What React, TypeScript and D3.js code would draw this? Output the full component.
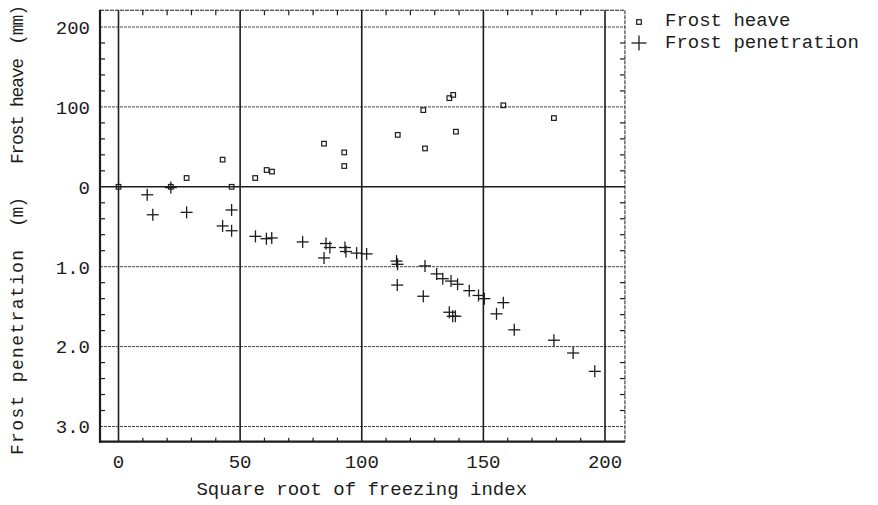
import React from "react";
import * as d3 from "d3";

// Square root of freezing index for each frost-heave observation
const heaveIndex = [0, 21.5, 28, 42.8, 46.5, 56.2, 60.9, 63.1, 84.5, 92.8, 92.8, 114.8, 125.3, 126.0, 136.0, 137.6, 138.7, 158.2, 179.0];
// Frost heave (mm)
const heaveMm = [0, 0, 11, 34, 0, 11, 21, 19, 54, 43, 26, 65, 96, 48, 111, 115, 69, 102, 86];

// Square root of freezing index for each frost-penetration observation
const penIndex = [11.8, 14.1, 21.5, 28.0, 42.8, 46.5, 46.5, 56.3, 60.8, 63.0, 75.7, 84.5, 85.3, 86.9, 93.1, 93.5, 97.9, 102.0, 114.3, 114.7, 114.6, 126.0, 125.3, 130.8, 133.3, 136.7, 139.4, 144.2, 148.0, 150.4, 136.0, 137.4, 138.5, 155.4, 158.2, 162.7, 179.0, 186.9, 195.8];
// Frost penetration (m), plotted downward from zero
const penM = [0.10, 0.35, 0.01, 0.32, 0.49, 0.29, 0.55, 0.62, 0.65, 0.64, 0.69, 0.89, 0.71, 0.76, 0.76, 0.81, 0.83, 0.84, 0.93, 0.97, 1.23, 0.99, 1.37, 1.09, 1.15, 1.18, 1.22, 1.30, 1.36, 1.40, 1.57, 1.62, 1.62, 1.59, 1.45, 1.79, 1.92, 2.08, 2.31];

// Axis ticks
const xMajor = [0, 50, 100, 150, 200];
const xTickLabels = ["0", "50", "100", "150", "200"];
const yMajor = [200, 100, 0, -100, -200, -300];
const yTickLabels = ["200", "100", "0", "1.0", "2.0", "3.0"];
const xLimits = [-7.6, 208.2];
const yLimits = [-319, 221];

// Pieces of the vertical title, bottom to top
const yTitleParts = ["Frost penetration", "(m)", "Frost heave", "(mm)"];

const FONT = "'Liberation Mono', 'Courier New', monospace";

export default function App() {
  const x = d3.scaleLinear().domain([0, 200]).range([118.5, 605]);
  // one vertical scale: 100 mm of heave above zero equals 1.0 m of penetration below
  const y = d3.scaleLinear().domain([-300, 200]).range([426.5, 27]);

  const left = x(xLimits[0]);
  const right = x(xLimits[1]);
  const top = y(yLimits[1]);
  const bottom = y(yLimits[0]);

  const xMinor = d3.range(10, 200, 10).filter((v) => v % 50 !== 0);
  const yMinor = d3.range(-300, 201, 20).filter((v) => v % 100 !== 0);

  // vertical extent (screen y) of each title piece: [bottom, top]
  const titleSpans: [number, number][] = [[455, 250], [227, 197], [164, 58], [45, 5]];

  const ink = "#1c1c1c";
  const plus = (cx: number, cy: number, h: number, key: string | number) => (
    <g key={key} stroke={ink} strokeWidth={1.3}>
      <line x1={cx - h} x2={cx + h} y1={cy} y2={cy} />
      <line x1={cx} x2={cx} y1={cy - h} y2={cy + h} />
    </g>
  );

  return (
    <div style={{ position: "absolute", left: 0, top: 0 }}>
      <svg width={878} height={505} style={{ display: "block", background: "#fff" }}>
        {/* horizontal grid */}
        {yMajor.filter((v) => v !== 0).map((v) => (
          <line key={"hg" + v} x1={left} x2={right} y1={y(v)} y2={y(v)} stroke="#444" strokeWidth={1} strokeDasharray="3 1" />
        ))}
        <line x1={left} x2={right} y1={y(0)} y2={y(0)} stroke={ink} strokeWidth={1.6} />
        {/* vertical grid */}
        {xMajor.map((v) => (
          <line key={"vg" + v} x1={x(v)} x2={x(v)} y1={top} y2={bottom} stroke={ink} strokeWidth={1.6} />
        ))}
        {/* frame */}
        <line x1={left} x2={right} y1={top} y2={top} stroke={ink} strokeWidth={1} strokeDasharray="4 1" />
        <line x1={right} x2={right} y1={top} y2={bottom} stroke={ink} strokeWidth={1} strokeDasharray="4 1" />
        <line x1={left} x2={left} y1={top - 0.5} y2={bottom + 1} stroke={ink} strokeWidth={2.2} />
        <line x1={left - 1} x2={right} y1={bottom} y2={bottom} stroke={ink} strokeWidth={2.2} />
        {/* minor ticks */}
        {xMinor.map((v) => (
          <g key={"xt" + v} stroke={ink} strokeWidth={1.2}>
            <line x1={x(v)} x2={x(v)} y1={top} y2={top + 5} />
            <line x1={x(v)} x2={x(v)} y1={bottom} y2={bottom - 4} />
          </g>
        ))}
        {yMinor.map((v) => (
          <g key={"yt" + v} stroke={ink} strokeWidth={1.2}>
            <line x1={left} x2={left + 5} y1={y(v)} y2={y(v)} />
            <line x1={right} x2={right - 5} y1={y(v)} y2={y(v)} />
          </g>
        ))}
        {/* tick labels */}
        {yMajor.map((v, i) => (
          <text key={"yl" + v} x={90} y={y(v)} dy="0.36em" textAnchor="end" fontFamily={FONT} fontSize={19} fill={ink}>
            {yTickLabels[i]}
          </text>
        ))}
        {xMajor.map((v, i) => (
          <text key={"xl" + v} x={x(v)} y={468} textAnchor="middle" fontFamily={FONT} fontSize={19} fill={ink}>
            {xTickLabels[i]}
          </text>
        ))}
        {/* axis titles */}
        <text x={x(100)} y={495} textAnchor="middle" fontFamily={FONT} fontSize={19} fill={ink}>
          Square root of freezing index
        </text>
        {yTitleParts.map((t, i) => {
          const [b, tp] = titleSpans[i];
          return (
            <text
              key={t}
              transform={`translate(23,${b}) rotate(-90)`}
              textLength={b - tp}
              lengthAdjust="spacing"
              fontFamily={FONT}
              fontSize={18}
              fill={ink}
            >
              {t}
            </text>
          );
        })}
        {/* frost heave points */}
        {heaveIndex.map((v, i) => (
          <rect key={"h" + i} x={x(v) - 2.3} y={y(heaveMm[i]) - 2.3} width={4.6} height={4.6} fill="none" stroke={ink} strokeWidth={1.2} />
        ))}
        {/* frost penetration points */}
        {penIndex.map((v, i) => plus(x(v), y(-penM[i] * 100), 6, "p" + i))}
        {/* legend */}
        <rect x={636.7} y={19.7} width={4.6} height={4.6} fill="none" stroke={ink} strokeWidth={1.2} />
        <text x={665} y={26} fontFamily={FONT} fontSize={19} fill={ink}>Frost heave</text>
        {plus(639, 43, 7.5, "lg")}
        <text x={665} y={48} fontFamily={FONT} fontSize={19} fill={ink}>Frost penetration</text>
      </svg>
    </div>
  );
}
